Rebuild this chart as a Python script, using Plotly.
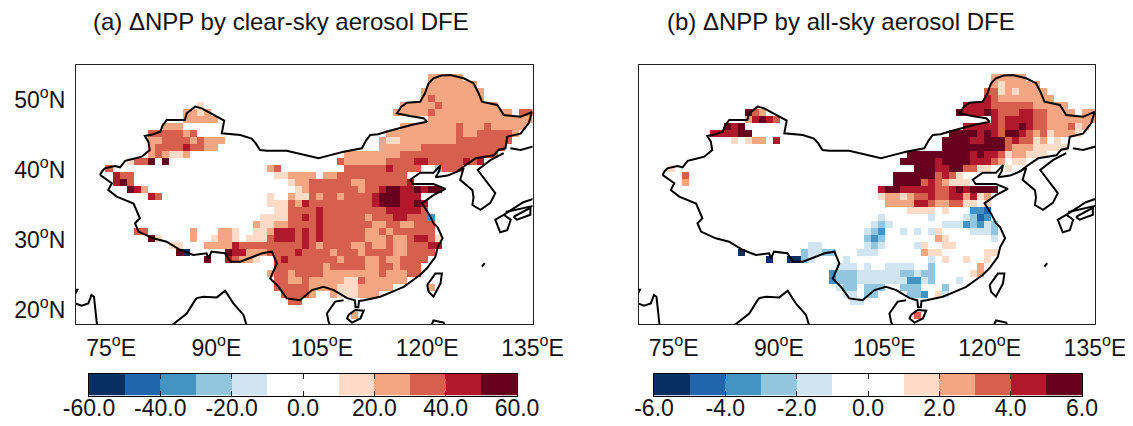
import numpy as np
import plotly.graph_objects as go

# Cell codes: . blank, 1-5 positive classes, a-e negative classes; "_" = ten blank cells
CLEAR_SKY_ROWS = [
 "_ _ _ _ .......222 22........",
 "_ _ _ _ .......222 2222......",
 "_ _ _ _ ......2222 22222.....",
 "_ _ _ _ ......2322 22222.....",
 "_ ....1..... _ _ ...2222232 2222222...",
 "_ ..2212.... _ _ ..22222322 222222222. 33",
 "_ ..22222... _ _ .......222 2222222222 22",
 ".........2 22........ _ _ ...2222222 2322232222 2.",
 ".......333 3323...... _ _ .222222222 2322333332",
 ".......223 33323222.. _ _ 2112222222 233333333.",
 ".......233 3343322... _ _ 2222223333 33333333..",
 ".......232 112....... _ .....22222 2223333333 3333333...",
 "....1335.5 _ _ ....322222 2333344333 33434.....",
 ".3........ _ ....23.... .....33333 343333..b3 33........",
 "..433..... _ .....11222 2.22333333 3333......",
 "..453..... _ .......122 3333332233 33334.....",
 "....542... _ ........12 3333333233 455445455.",
 ".......43. _ ....1..211 3233233334 555444....",
 "_ _ ....111324 3333333334 5554454...",
 "_ _ .....11333 3433333333 3444443...",
 "_ _ ...1111334 3433333323 3344333c..",
 "_ _ ..21122333 3433333332 23322333..",
 ".....33... ...2...221 ..11244434 3433333322 32333333..",
 ".......51. ...2..1221 .111344434 3433333322 232234431.",
 "_ 11...22224 3333333334 3233332232 232233344.",
 "_ .5e.....54 4222333343 3332333233 33223333..",
 "_ .....5..43 221..34333 3333233322 3223333...",
 "_ _ .....33333 3323333322 332333....",
 "_ _ ....233233 3322222222 322233....",
 "_ _ .....33223 2222211322 2222......",
 "_ _ .....33333 2222111222 22.....2..",
 "_ _ ......3333 2..2111222",
 "_ _ .......33.",
 "_",
 "_ _ _ ......2...",
 "_",
]
ALL_SKY_ROWS = [
 "_ _ _ _ .......222 22........",
 "_ _ _ _ .......212 2222......",
 "_ _ _ _ ......3312 12222.....",
 "_ _ _ _ ......4322 222222....",
 "_ _ _ _ ...4444333 33322222..",
 "_ ..532..... _ _ ..54445433 344332222. 22",
 "_ ..24543... _ _ .......434 4443322222 22",
 ".........5 45........ _ _ ...4444434 4543322231 2.",
 ".......444 455....... _ _ .555545435 5432312221",
 "_ 1.122.4... _ _ 5555445553 43312.1...",
 "_ _ _ _ 5555555553 22211111..",
 "_ _ _ .....55555 5555454431 22111.....",
 "_ _ _ ....555554 555544432. 11........",
 ".1........ _ _ ......5554 4553311..1",
 "...3...... _ _ ...5555553 431.......",
 "...2...... _ _ ...5555343 2111......",
 "_ _ _ .455444443 34545555..",
 "_ _ _ .122123343 3442412...",
 "_ _ _ ..22224432 23311.1...",
 "_ _ _ .....1111. 1...ccd...",
 "_ _ _ .a......a. ...abdc...",
 "_ _ _ aba....... aaacbcab..",
 "_ _ .........a bc..a.a.a1 ....aaab..",
 "_ _ .........b cb.......2 1......a..",
 "_ _ .aa......a ba....a1.. 11........",
 "_ .e........ baabb...aa a......211 ......11..",
 "_ .....e..ee ba....a... ........a. 1..1..1...",
 "_ _ .....aaa.a ..aaaa..b. .....2....",
 "_ _ ....cbbbaa aaaabbabb. ....12....",
 "_ _ ....cbbbaa aaaaaccab. ..a.......",
 "_ _ .....abb.b bb..bbb... b.........",
 "_ _ ......aa.b b....bbc.1 a.........",
 "_ _ .......aa.",
 "_",
 "_ _ _ ......3...",
 "_",
]
CLASS_VALUES_CLEAR = {".": np.nan, "1": 15, "2": 25, "3": 35, "4": 45, "5": 55,
                      "a": -15, "b": -25, "c": -35, "d": -45, "e": -55}
CLASS_VALUES_ALL = {".": np.nan, "1": 1.5, "2": 2.5, "3": 3.5, "4": 4.5, "5": 5.5,
                    "a": -1.5, "b": -2.5, "c": -3.5, "d": -4.5, "e": -5.5}

FIRST_LON = 73.2
TOP_LAT = 53.7
N_COLS = 62

LON_TICKS = [75, 90, 105, 120, 135]
LON_LABELS = ["75<sup>o</sup>E", "90<sup>o</sup>E", "105<sup>o</sup>E", "120<sup>o</sup>E", "135<sup>o</sup>E"]
LAT_TICKS = [20, 30, 40, 50]
LAT_LABELS = ["20<sup>o</sup>N", "30<sup>o</sup>N", "40<sup>o</sup>N", "50<sup>o</sup>N"]
BAR_EDGES_CLEAR = [-60, -50, -40, -30, -20, -10, 0, 10, 20, 30, 40, 50, 60]
BAR_TICKS_CLEAR = [-60, -40, -20, 0, 20, 40, 60]
BAR_LABELS_CLEAR = ["-60.0", "-40.0", "-20.0", "0.0", "20.0", "40.0", "60.0"]
BAR_EDGES_ALL = [-6, -5, -4, -3, -2, -1, 0, 1, 2, 3, 4, 5, 6]
BAR_TICKS_ALL = [-6, -4, -2, 0, 2, 4, 6]
BAR_LABELS_ALL = ["-6.0", "-4.0", "-2.0", "0.0", "2.0", "4.0", "6.0"]
CLASS_COLORS = ["#053061", "#2166ac", "#4393c3", "#92c5de", "#d1e5f0", "#ffffff",
                "#ffffff", "#fddbc7", "#f4a582", "#d6604d", "#b2182b", "#67001f"]
TITLE_A = "(a) ΔNPP by clear-sky aerosol DFE"
TITLE_B = "(b) ΔNPP by all-sky aerosol DFE"

# Map outlines (lon, lat)
CHINA_LON = [73.42,73.7,74.1,75.0,75.56,76.27,77,78.2,79.36,80.5,80.3,79.8,81,82,82.3,82.92,84,85.5,85.77,86.96,87.9,89,90.05,91.1,90.76,92,93.4,95,95.6,96.2,97.2,100,102.4,104.54,106.5,108.1,110.7,111.3,111.9,113,114.3,116.2,118,120,119.5,117.5,115.7,116.3,117.1,119,119.7,120.2,120.9,122,123.3,125.2,126.6,127.3,127.8,129,130,130.9,132,133.3,134.95,134.47,133.3,131.4,131.15,130.2,129.5,128,126.9,125.2,124.26,122.9,121.2,121.7,121.9,120.9,119,117.6,118,120.9,122.6,120.9,119.27,120.2,120.9,121.5,121.9,122.2,121.5,121.17,120,119,118.3,116.66,115,113.33,111,110.3,110.2,109.8,109.7,108.6,106.7,105.25,103.6,101.9,100,98.84,97.65,98.6,97.9,96.5,93.4,92,91.2,89.3,88.86,88.6,86.7,84.8,82.9,81,78.9,78.4,79.1,78.2,75.8,74.6,75.1,73.42]
CHINA_LAT = [39.3,39.8,40.24,40.4,40.57,40.38,41.3,41.6,41.9,42.86,44.05,44.86,45.1,45.47,46.3,47.14,47.1,47.14,48.1,49.05,48.8,48.2,47.6,47.05,45.24,45.1,45,44.5,43.8,42.86,42.76,42.76,42.14,41.67,42.2,42.6,43.1,44.2,45,45.1,45.5,46,46.5,46.9,47.4,47.7,48.1,49,49.6,49.76,51,52.4,53.1,53.5,53.57,53.1,52.4,51,49.76,49.5,49.3,47.85,47.7,47.6,48.3,46.7,45.2,44.75,43.1,42.9,42.1,41.9,41.67,40.5,39.76,39.2,38.95,39.8,40.7,39.6,39.6,38.6,38,38,37.3,36.4,35.24,33.8,32.4,31.8,31,30.24,29,27.6,26,25,24.5,23.3,22.6,21.9,21.4,21.3,20.4,20.4,21.4,21.7,22.85,23.3,22.85,21.4,21.66,23.3,24.5,26.66,28.33,28.1,26.9,26.9,28.1,28.33,27.4,28.1,27.85,28.6,29.76,30.24,31.2,32.4,33.1,35.2,36.2,37.14,38.1,39.3]
HAINAN_LON = [108.8,109.77,110.96,110.5,109.3,108.6,108.8]
HAINAN_LAT = [19.3,20,19.9,18.8,18.2,18.8,19.3]
TAIWAN_LON = [120,121.17,122.1,121.9,120.9,120.2,120]
TAIWAN_LAT = [23.57,25.2,25.2,23.8,21.9,22.6,23.57]
VIETNAM_LON = [108.1,106.9,105.73,105.97,106.2]
VIETNAM_LAT = [21.4,21.2,19.5,18.3,17.8]
KOREA_LON = [124.3,125.2,124.7,126.45,126.6,126.45,127.6,129,129.7,128.6,127.2,129,130.9]
KOREA_LAT = [39.8,40.3,38.6,37.1,36.1,35,34.3,35.3,36.7,38.1,40,41.4,42.4]
RUSSIA_LON = [131.85,133.3,135.2]
RUSSIA_LAT = [43.1,42.86,43.4]
BAY_LON = [83.63,85.77,86.96,87.2,88.15,90.05,91.24,92.4,93.85,94.3]
BAY_LAT = [17.8,19.5,21.4,21.7,21.9,21.8,22.76,20.95,19.3,17.8]
GUJARAT_LON = [69.9,70.8,71.76,72.2,72.56,72.7,73]
GUJARAT_LAT = [20.95,20.6,20.95,22.14,21.9,20.5,17.8]
KUTCH_LON = [69.9,70.2,69.9]
KUTCH_LAT = [22.9,22.9,22.3]
KYUSHU_LON = [135.2,133.7,130.9,129.7,130.4,131.4,131.9,130.9]
KYUSHU_LAT = [35.9,35.4,33.6,32.9,31.1,31.4,32.9,33.6]
HONSHU_LON = [131.2,135.2]
HONSHU_LAT = [34,34.9]
SHIKOKU_LON = [132.3,134.7,134.7,132.8,132.3]
SHIKOKU_LAT = [33.3,34.6,33.6,32.9,33.3]
RYUKYU_LON = [127.8,128.2]
RYUKYU_LAT = [26.2,26.7]
LUZON_LON = [120.6,120.9,122.35,122.5]
LUZON_LAT = [17.8,18.5,18.2,17.8]
SHAPES = [(CHINA_LON, CHINA_LAT), (HAINAN_LON, HAINAN_LAT), (TAIWAN_LON, TAIWAN_LAT),
          (VIETNAM_LON, VIETNAM_LAT), (KOREA_LON, KOREA_LAT), (RUSSIA_LON, RUSSIA_LAT),
          (BAY_LON, BAY_LAT), (GUJARAT_LON, GUJARAT_LAT), (KUTCH_LON, KUTCH_LAT),
          (KYUSHU_LON, KYUSHU_LAT), (HONSHU_LON, HONSHU_LAT), (SHIKOKU_LON, SHIKOKU_LAT),
          (RYUKYU_LON, RYUKYU_LAT), (LUZON_LON, LUZON_LAT)]

# The page has an 8px body margin, so the figure is 8px smaller and all window positions shift by 8
PAGE_MARGIN = 8
W, H = 1133 - PAGE_MARGIN, 426 - PAGE_MARGIN
FONT = "Liberation Sans"


def decode(rows, mapping):
    grid = []
    for row in rows:
        s = row.replace(" ", "").replace("_", "." * 10).ljust(N_COLS, ".")
        grid.append([mapping[ch] for ch in s[:N_COLS]])
    return np.array(grid, dtype=float)


def dx(a, b):
    return [(a - PAGE_MARGIN) / W, (b - PAGE_MARGIN) / W]


def dy(top, bottom):
    return [1 - (bottom - PAGE_MARGIN) / H, 1 - (top - PAGE_MARGIN) / H]


def colorscale():
    scale = []
    n = len(CLASS_COLORS)
    for i, c in enumerate(CLASS_COLORS):
        scale += [[i / n, c], [(i + 1) / n, c]]
    return scale


lon_edges = FIRST_LON + np.arange(N_COLS + 1)
lat_edges = TOP_LAT - np.arange(len(CLEAR_SKY_ROWS) + 1)
border_x, border_y = [], []
for lo, la in SHAPES:
    border_x += list(lo) + [None]
    border_y += list(la) + [None]

fig = go.Figure()
panels = [
    ("x", "y", CLEAR_SKY_ROWS, CLASS_VALUES_CLEAR, 60),
    ("x2", "y2", ALL_SKY_ROWS, CLASS_VALUES_ALL, 6),
]
for xa, ya, rows, mapping, lim in panels:
    fig.add_trace(go.Heatmap(x=lon_edges, y=lat_edges, z=decode(rows, mapping), xaxis=xa, yaxis=ya,
                             zmin=-lim, zmax=lim, colorscale=colorscale(), showscale=False,
                             hoverongaps=False))
    fig.add_trace(go.Scatter(x=border_x, y=border_y, xaxis=xa, yaxis=ya, mode="lines",
                             line=dict(color="black", width=2), showlegend=False, connectgaps=False))

for xa, ya, edges, lim in [("x3", "y3", BAR_EDGES_CLEAR, 60), ("x4", "y4", BAR_EDGES_ALL, 6)]:
    mids = [(edges[i] + edges[i + 1]) / 2 for i in range(len(edges) - 1)]
    fig.add_trace(go.Heatmap(x=edges, y=[0, 1], z=[mids], xaxis=xa, yaxis=ya, zmin=-lim, zmax=lim,
                             colorscale=colorscale(), showscale=False))

tick_font = dict(family=FONT, size=23, color="#111")
map_x = dict(range=[70, 135], tickmode="array", tickvals=LON_TICKS, ticktext=LON_LABELS, ticks="",
             showgrid=False, zeroline=False, showline=True, linecolor="#222", linewidth=1, mirror=True,
             tickfont=tick_font, ticklabelstandoff=3, automargin=False)
map_y = dict(range=[18, 55], tickmode="array", tickvals=LAT_TICKS, ticktext=LAT_LABELS, ticks="",
             showgrid=False, zeroline=False, showline=True, linecolor="#222", linewidth=1, mirror=True,
             tickfont=tick_font, ticklabelstandoff=5, automargin=False)


def bar_x(domain, ticks, labels, lim):
    return dict(domain=domain, range=[-lim, lim], tickmode="array", tickvals=ticks, ticktext=labels,
                ticks="inside", ticklen=5, tickcolor="#222", tickwidth=1, showgrid=False, zeroline=False,
                showline=True, linecolor="black", linewidth=1, mirror="ticks", tickfont=tick_font,
                ticklabelstandoff=-8, automargin=False)


bar_y = dict(range=[0, 1], showticklabels=False, ticks="", showgrid=False, zeroline=False,
             showline=True, linecolor="black", linewidth=1, mirror=True, automargin=False)

xa3 = bar_x(dx(89, 517), BAR_TICKS_CLEAR, BAR_LABELS_CLEAR, 60)
xa3["anchor"] = "y3"
xa4 = bar_x(dx(654, 1082), BAR_TICKS_ALL, BAR_LABELS_ALL, 6)
xa4["anchor"] = "y4"

fig.update_layout(
    width=W, height=H, autosize=False, margin=dict(l=0, r=0, t=0, b=0, autoexpand=False),
    paper_bgcolor="white", plot_bgcolor="white", showlegend=False,
    font=dict(family=FONT, color="#111"),
    xaxis={**map_x, "domain": dx(76, 532.5), "anchor": "y"},
    yaxis={**map_y, "domain": dy(65, 324), "anchor": "x"},
    xaxis2={**map_x, "domain": dx(638.5, 1095), "anchor": "y2"},
    yaxis2={**map_y, "domain": dy(65, 324), "anchor": "x2", "showticklabels": False},
    xaxis3=xa3,
    yaxis3={**bar_y, "domain": dy(373.5, 395.5), "anchor": "x3"},
    xaxis4=xa4,
    yaxis4={**bar_y, "domain": dy(373.5, 395.5), "anchor": "x4"},
    annotations=[
        dict(text=TITLE_A, x=(91 - PAGE_MARGIN) / W, y=1 - (22 - PAGE_MARGIN) / H, xref="paper", yref="paper",
             xanchor="left", yanchor="middle", showarrow=False, font=dict(family=FONT, size=24, color="#111")),
        dict(text=TITLE_B, x=(665 - PAGE_MARGIN) / W, y=1 - (22 - PAGE_MARGIN) / H, xref="paper", yref="paper",
             xanchor="left", yanchor="middle", showarrow=False, font=dict(family=FONT, size=24, color="#111")),
    ],
)
fig.write_html("out.html")
